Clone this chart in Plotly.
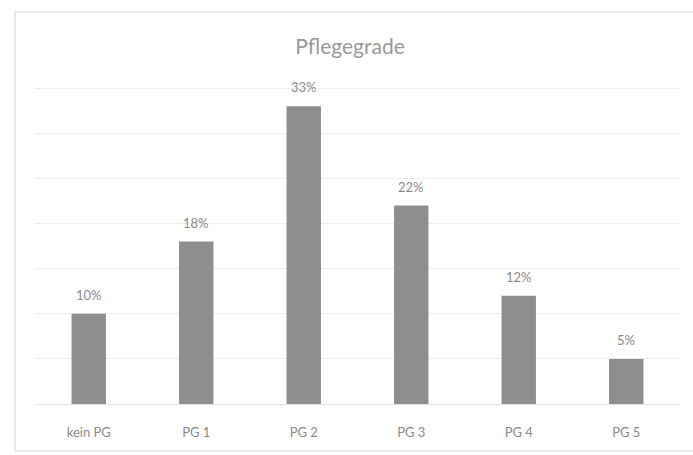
import plotly.graph_objects as go

categories = ["kein PG", "PG 1", "PG 2", "PG 3", "PG 4", "PG 5"]
values = [10, 18, 33, 22, 12, 5]
labels = ["10%", "18%", "33%", "22%", "12%", "5%"]

bar_color = "#8e8e8e"
text_color = "#8a8a8a"
font_family = "Lato, 'Open Sans', sans-serif"

fig = go.Figure(
    go.Bar(
        x=categories,
        y=values,
        marker=dict(color=bar_color, line=dict(width=0)),
        hoverinfo="skip",
    )
)

for c, v, t in zip(categories, values, labels):
    fig.add_annotation(
        x=c, y=v, text=t, showarrow=False, yanchor="middle", yshift=19,
        font=dict(family=font_family, size=13, color=text_color),
    )

fig.update_layout(
    width=693,
    height=455,
    margin=dict(l=35, r=13, t=86, b=51),
    paper_bgcolor="white",
    plot_bgcolor="white",
    bargap=0.68,
    showlegend=False,
    title=dict(
        text="Pflegegrade",
        x=0.505, xanchor="center",
        y=1 - 47 / 455, yanchor="middle", yref="container",
        font=dict(family=font_family, size=21, color="#999999"),
    ),
    xaxis=dict(
        showgrid=False,
        showline=True,
        linecolor="#e0e0e0",
        linewidth=1,
        ticks="",
        ticklabelstandoff=16,
        tickfont=dict(family=font_family, size=13, color="#8a8a8a"),
    ),
    yaxis=dict(
        range=[0, 35.25],
        dtick=5,
        showgrid=True,
        gridcolor="#ececec",
        gridwidth=1,
        zeroline=False,
        showticklabels=False,
        ticks="",
    ),
    shapes=[
        dict(
            type="rect", xref="paper", yref="paper",
            x0=-20 / 645, x1=1 + 20 / 645, y0=-47 / 318, y1=1 + 74 / 318,
            line=dict(color="#e2e2e2", width=1.5), fillcolor="rgba(0,0,0,0)",
            layer="below",
        )
    ],
)

fig.write_html("out.html")
